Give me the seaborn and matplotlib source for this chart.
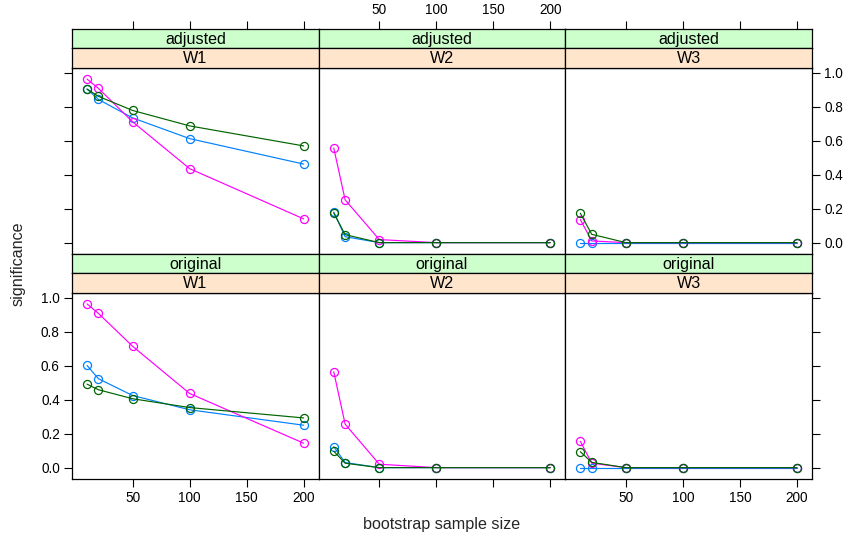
import numpy as np
import pandas as pd
import matplotlib
matplotlib.use("Agg")
import matplotlib.pyplot as plt
import seaborn as sns

sns.set_style("white")
plt.rcParams["font.family"] = ["Liberation Sans", "DejaVu Sans"]

# ---------------- data ----------------
sizes = [10, 20, 50, 100, 200]
groups = ["g1", "g2", "g3"]
types = ["adjusted", "original"]
waves = ["W1", "W2", "W3"]

adj_W1_g1 = [0.905, 0.844, 0.735, 0.613, 0.463]
adj_W1_g2 = [0.964, 0.909, 0.712, 0.436, 0.140]
adj_W1_g3 = [0.905, 0.862, 0.779, 0.688, 0.570]

adj_W2_g1 = [0.180, 0.035, 0.0, 0.0, 0.0]
adj_W2_g2 = [0.558, 0.252, 0.018, 0.0, 0.0]
adj_W2_g3 = [0.175, 0.047, 0.0, 0.0, 0.0]

adj_W3_g1 = [0.0, 0.0, 0.0, 0.0, 0.0]
adj_W3_g2 = [0.136, 0.010, 0.0, 0.0, 0.0]
adj_W3_g3 = [0.173, 0.049, 0.0, 0.0, 0.0]

org_W1_g1 = [0.602, 0.524, 0.425, 0.341, 0.250]
org_W1_g2 = [0.965, 0.909, 0.715, 0.437, 0.144]
org_W1_g3 = [0.492, 0.459, 0.406, 0.354, 0.293]

org_W2_g1 = [0.124, 0.030, 0.0, 0.0, 0.0]
org_W2_g2 = [0.565, 0.256, 0.020, 0.0, 0.0]
org_W2_g3 = [0.097, 0.026, 0.0, 0.0, 0.0]

org_W3_g1 = [0.0, 0.0, 0.0, 0.0, 0.0]
org_W3_g2 = [0.155, 0.026, 0.0, 0.0, 0.0]
org_W3_g3 = [0.094, 0.031, 0.0, 0.0, 0.0]

xticks = [50, 100, 150, 200]
yticks = [0.0, 0.2, 0.4, 0.6, 0.8, 1.0]
ytick_labels = ["0.0", "0.2", "0.4", "0.6", "0.8", "1.0"]

series = {
    ("adjusted", "W1"): [adj_W1_g1, adj_W1_g2, adj_W1_g3],
    ("adjusted", "W2"): [adj_W2_g1, adj_W2_g2, adj_W2_g3],
    ("adjusted", "W3"): [adj_W3_g1, adj_W3_g2, adj_W3_g3],
    ("original", "W1"): [org_W1_g1, org_W1_g2, org_W1_g3],
    ("original", "W2"): [org_W2_g1, org_W2_g2, org_W2_g3],
    ("original", "W3"): [org_W3_g1, org_W3_g2, org_W3_g3],
}
rows = []
for (t, w), vals in series.items():
    for g, v in zip(groups, vals):
        for s, val in zip(sizes, v):
            rows.append(dict(type=t, wave=w, group=g, size=s, significance=val))
df = pd.DataFrame(rows)

colors = {"g1": "#0080ff", "g2": "#ff00ff", "g3": "#006400"}
strip_top_col = "#ccffcc"
strip_bot_col = "#ffe5cc"

# ---------------- layout ----------------
W, H = 848, 540
fig = plt.figure(figsize=(W / 100, H / 100), dpi=100)

def rect(x0, y0, x1, y1):
    return [x0 / W, 1 - y1 / H, (x1 - x0) / W, (y1 - y0) / H]

col_edges = [72, 318.7, 565.3, 812]
row_defs = {
    "adjusted": (29, 48.3, 67.7, 254),
    "original": (254, 273.3, 292.7, 479),
}
XLIM = (-3.2, 213.2)
YLIM = (-0.067, 1.031)
tick_fs = 9.8
strip_fs = 11.6
lw_frame = 0.9

for ri, t in enumerate(types):
    s0, s1, s2, p1 = row_defs[t]
    for ci, w in enumerate(waves):
        x0, x1 = col_edges[ci], col_edges[ci + 1]
        ax = fig.add_axes(rect(x0, s2, x1, p1))
        sub = df[(df.type == t) & (df.wave == w)]
        for g in groups:
            d = sub[sub.group == g]
            sns.lineplot(data=d, x="size", y="significance", ax=ax,
                         color=colors[g], lw=0.85, marker="o", ms=5.8,
                         mfc="none", mec=colors[g], mew=0.9,
                         estimator=None, sort=False, legend=False)
        ax.set_xlim(*XLIM)
        ax.set_ylim(*YLIM)
        ax.set_xlabel("")
        ax.set_ylabel("")
        for sp in ax.spines.values():
            sp.set_linewidth(lw_frame)
            sp.set_color("black")
        ax.set_xticks(xticks)
        ax.set_yticks(yticks)
        ax.tick_params(axis="both", length=5.8, width=0.8, labelsize=tick_fs,
                       colors="black", pad=3,
                       bottom=False, top=False, left=False, right=False,
                       labelbottom=False, labeltop=False,
                       labelleft=False, labelright=False)
        if t == "original":
            ax.tick_params(axis="x", bottom=True, labelbottom=(ci != 1))
        if ci == 0:
            ax.tick_params(axis="y", left=True, labelleft=(t == "original"))
            ax.set_yticklabels(ytick_labels)
        if ci == 2:
            ax.tick_params(axis="y", right=True, labelright=(t == "adjusted"))
            ax.set_yticklabels(ytick_labels)

        # strips
        for (ya, yb, col, label) in [(s0, s1, strip_top_col, t),
                                     (s1, s2, strip_bot_col, w)]:
            sax = fig.add_axes(rect(x0, ya, x1, yb))
            sax.set_facecolor(col)
            sax.set_xlim(*XLIM)
            sax.set_ylim(0, 1)
            sax.set_yticks([])
            sax.text(0.5, 0.47, label, transform=sax.transAxes, ha="center",
                     va="center", fontsize=strip_fs, color="black")
            for sp in sax.spines.values():
                sp.set_linewidth(lw_frame)
                sp.set_color("black")
            sax.set_xticks(xticks)
            sax.tick_params(axis="x", bottom=False, labelbottom=False,
                            top=False, labeltop=False)
            if t == "adjusted" and col == strip_top_col:
                sax.tick_params(axis="x", top=True, labeltop=(ci == 1),
                                length=5.8, width=0.8, labelsize=tick_fs,
                                colors="black", pad=3)

fig.text(18 / W, 1 - 264 / H, "significance", rotation=90, ha="center",
         va="center", fontsize=11.6)
fig.text(442 / W, 1 - 524 / H, "bootstrap sample size", ha="center",
         va="center", fontsize=11.6)

fig.savefig("out.png", dpi=100)
